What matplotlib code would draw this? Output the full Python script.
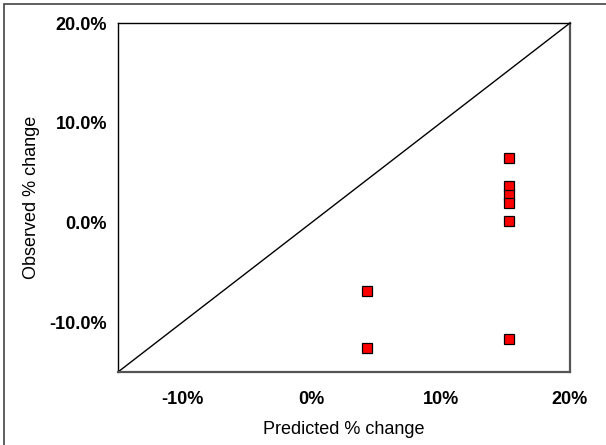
import matplotlib
matplotlib.use("Agg")
import matplotlib.pyplot as plt
from matplotlib.patches import Rectangle
from matplotlib.ticker import FuncFormatter

# predicted vs observed % change
predicted = [15.3, 15.3, 15.3, 15.3, 15.3, 15.3, 4.3, 4.3]
observed = [6.5, 3.65, 2.8, 1.9, 0.15, -11.7, -6.9, -12.6]

x_ticks = [-10, 0, 10, 20]
y_ticks = [-10, 0, 10, 20]
lims = (-15, 20)

plt.rcParams["font.family"] = ["Liberation Sans", "DejaVu Sans"]

fig = plt.figure(figsize=(6.06, 4.45), dpi=100)
ax = fig.add_axes([118 / 606, 1 - 372 / 445, 452 / 606, 349 / 445])

# outer frame around the whole chart (only left/top visible)
fig.patches.append(Rectangle((4 / 606, -0.05), 1.1, 1 - 4 / 445 + 0.05,
                             transform=fig.transFigure, fill=False,
                             edgecolor="#444444", lw=1.2))

ax.plot(lims, lims, color="black", lw=1)
ax.plot(predicted, observed, ls="none", marker="s", ms=6.5,
        mfc="red", mec="black", mew=0.9, clip_on=False)

ax.set_xlim(*lims)
ax.set_ylim(*lims)
ax.set_xticks(x_ticks)
ax.set_yticks(y_ticks)
ax.xaxis.set_major_formatter(FuncFormatter(lambda v, p: f"{v:.0f}%"))
ax.yaxis.set_major_formatter(FuncFormatter(lambda v, p: f"{v:.1f}%"))
ax.tick_params(length=0, labelsize=13)
ax.tick_params(axis="x", pad=14)
ax.tick_params(axis="y", pad=8)
for lbl in ax.get_xticklabels() + ax.get_yticklabels():
    lbl.set_fontweight("bold")

for side in ["left", "top"]:
    ax.spines[side].set_linewidth(1)
for side in ["right", "bottom"]:
    ax.spines[side].set_linewidth(1.6)
    ax.spines[side].set_color("#555555")

ax.set_xlabel("Predicted % change", fontsize=13, labelpad=9)
ax.set_ylabel("Observed % change", fontsize=13, labelpad=7)

fig.savefig("out.png", dpi=100)
